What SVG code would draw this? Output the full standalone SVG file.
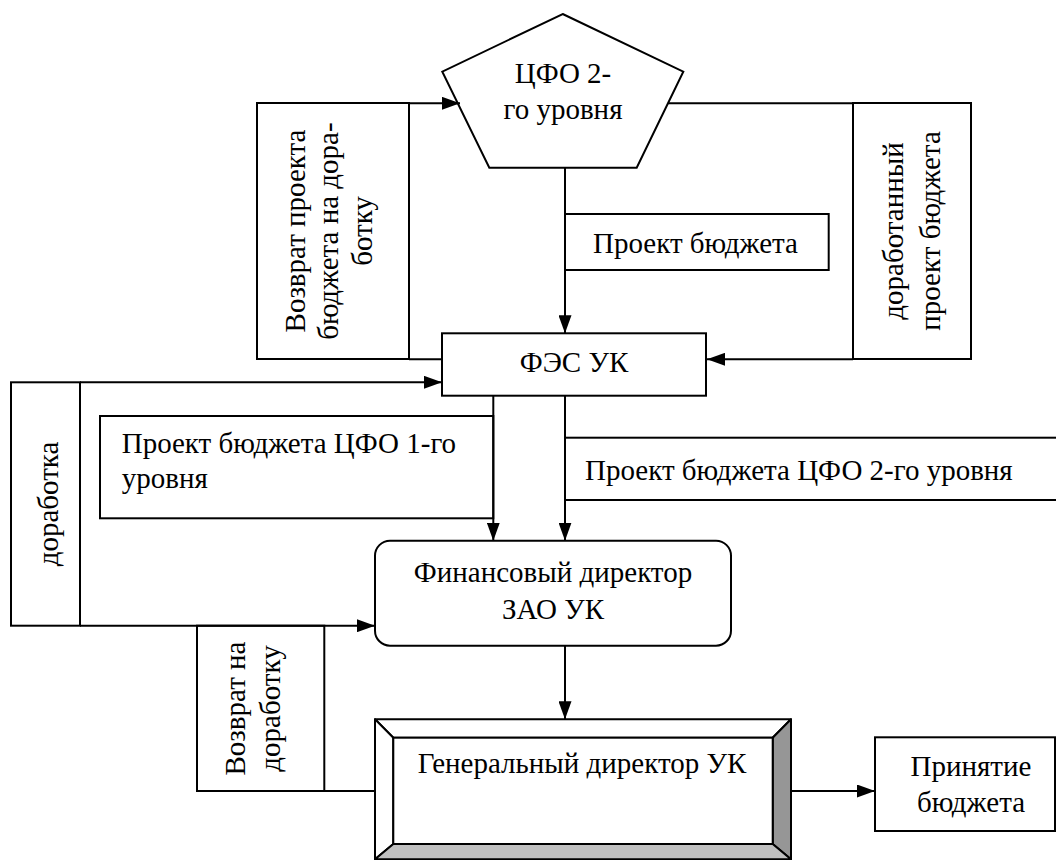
<svg xmlns="http://www.w3.org/2000/svg" width="1056" height="860" viewBox="0 0 1056 860">
<style>
.box{fill:#fff;stroke:#000;stroke-width:2}
.ln{fill:none;stroke:#000;stroke-width:2}
text{font-family:"Liberation Serif","Times New Roman",serif;font-size:29px;fill:#000}
.c{text-anchor:middle}
</style>
<defs>
<marker id="ar" markerUnits="userSpaceOnUse" markerWidth="18" markerHeight="13" refX="18" refY="6.5" orient="auto">
<path d="M0,0 L18,6.5 L0,13 z" fill="#000"/>
</marker>
</defs>
<rect width="1056" height="860" fill="#fff"/>

<g id="cfo2">
<polygon class="box" points="562.7,14 683.3,71.7 636.7,167.7 489.3,167.7 442.3,71.7"/>
<text class="c" x="563" y="83">ЦФО 2-</text>
<text class="c" x="563" y="119">го уровня</text>
</g>

<g id="vozvrat1">
<rect class="box" x="257" y="103" width="152" height="256"/>
<text class="c" transform="translate(305,231) rotate(-90)"><tspan x="0" y="0">Возврат проекта</tspan><tspan x="0" y="33">бюджета на дора-</tspan><tspan x="0" y="67">ботку</tspan></text>
</g>

<g id="dorab_proekt">
<rect class="box" x="853" y="103" width="118" height="256"/>
<text class="c" transform="translate(903,231) rotate(-90)"><tspan x="0" y="0">доработанный</tspan><tspan x="0" y="37">проект бюджета</tspan></text>
</g>

<g id="proekt">
<rect class="box" x="565" y="214" width="263.7" height="56"/>
<text x="593" y="253">Проект бюджета</text>
</g>

<g id="fes">
<rect class="box" x="442" y="333.3" width="264" height="62.4"/>
<text class="c" x="574" y="372">ФЭС УК</text>
</g>

<g id="dorabotka">
<rect class="box" x="11" y="382.3" width="69" height="243.4"/>
<text class="c" transform="translate(58,504) rotate(-90)">доработка</text>
</g>

<g id="proekt1">
<rect class="box" x="100" y="416" width="393.3" height="102.3"/>
<text x="121.7" y="453">Проект бюджета ЦФО 1-го</text>
<text x="121.7" y="488">уровня</text>
</g>

<g id="proekt2">
<rect class="box" x="565" y="437.7" width="500" height="62.3"/>
<text x="585" y="480">Проект бюджета ЦФО 2-го уровня</text>
</g>

<g id="findir">
<rect class="box" x="375" y="540.7" width="356" height="105" rx="15" ry="15"/>
<text class="c" x="553" y="582">Финансовый директор</text>
<text class="c" x="553" y="619">ЗАО УК</text>
</g>

<g id="vozvrat2">
<rect class="box" x="197" y="625.7" width="127.3" height="165.3"/>
<text class="c" transform="translate(245,708.5) rotate(-90)"><tspan x="0" y="0">Возврат на</tspan><tspan x="0" y="35">доработку</tspan></text>
</g>

<g id="gendir">
<polygon points="375,719.3 791,719.3 772.7,737.7 393.3,737.7" fill="#fff" stroke="#000" stroke-width="2" stroke-linejoin="round"/>
<polygon points="375,719.3 393.3,737.7 393.3,844 375,859.3" fill="#fff" stroke="#000" stroke-width="2" stroke-linejoin="round"/>
<polygon points="791,719.3 791,859.3 772.7,844 772.7,737.7" fill="#969696" stroke="#000" stroke-width="2" stroke-linejoin="round"/>
<polygon points="375,859.3 791,859.3 772.7,844 393.3,844" fill="#c0c0c0" stroke="#000" stroke-width="2" stroke-linejoin="round"/>
<rect x="393.3" y="737.7" width="379.4" height="106.3" fill="#fff" stroke="#000" stroke-width="2"/>
<text class="c" x="582" y="773">Генеральный директор УК</text>
</g>

<g id="prinyatie">
<rect class="box" x="875" y="737.3" width="180" height="93.7"/>
<text class="c" x="971" y="776">Принятие</text>
<text class="c" x="971" y="812">бюджета</text>
</g>

<g id="connectors">
<line class="ln" x1="409" y1="103.3" x2="460" y2="103.3" marker-end="url(#ar)"/>
<line class="ln" x1="668" y1="103.3" x2="853" y2="103.3"/>
<line class="ln" x1="853" y1="359.3" x2="707" y2="359.3" marker-end="url(#ar)"/>
<line class="ln" x1="409" y1="359.3" x2="442" y2="359.3"/>
<line class="ln" x1="565" y1="167.7" x2="565" y2="333.3" marker-end="url(#ar)"/>
<line class="ln" x1="80" y1="382.3" x2="442" y2="382.3" marker-end="url(#ar)"/>
<line class="ln" x1="493.3" y1="395.7" x2="493.3" y2="540.7" marker-end="url(#ar)"/>
<line class="ln" x1="565" y1="395.7" x2="565" y2="540.7" marker-end="url(#ar)"/>
<line class="ln" x1="80" y1="625.7" x2="375" y2="625.7" marker-end="url(#ar)"/>
<line class="ln" x1="324.3" y1="791" x2="375" y2="791"/>
<line class="ln" x1="565" y1="645.7" x2="565" y2="719.3" marker-end="url(#ar)"/>
<line class="ln" x1="791" y1="791" x2="875" y2="791" marker-end="url(#ar)"/>
</g>
</svg>
